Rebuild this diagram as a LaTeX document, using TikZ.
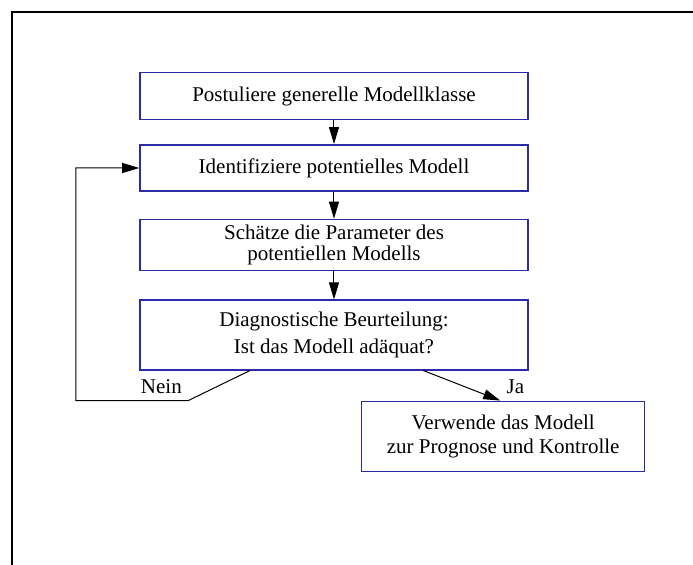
\documentclass[tikz,border=0pt]{standalone}
\usepackage{fontspec}
\setmainfont{Liberation Serif}
\usetikzlibrary{positioning,arrows.meta}
\definecolor{boxblue}{HTML}{2B2BA8}

\begin{document}
\begin{tikzpicture}[
  x=0.5pt, y=-0.5pt,
  font=\fontsize{10.5}{12}\selectfont,
  node distance=13.4pt,
  box/.style={
    draw=boxblue,
    line width=0.75pt,
    align=center,
    minimum width=194pt,
    inner sep=0pt
  },
  arr/.style={
    -{Triangle[length=8.5pt,width=5pt]},
    line width=0.5pt,
    color=black
  },
  lbl/.style={inner sep=3pt}
]
\useasboundingbox (0,0) rectangle (693,565);

% Frame
\draw[line width=1pt, line join=miter] (693,12) -- (12,12) -- (12,565);

% Steps
\node[box, minimum height=23.3pt] (postul) at (334,96)
  {Postuliere generelle Modellklasse};
\node[box, minimum height=23.2pt, below=12pt of postul] (ident)
  {Identifiziere potentielles Modell};
\node[box, minimum height=25.4pt, below=of ident] (schaetz)
  {Schätze die Parameter des\\[-1.2pt]potentiellen Modells};
\node[box, minimum height=34.8pt, below=14.2pt of schaetz] (diag)
  {Diagnostische Beurteilung:\\[1.3pt]Ist das Modell adäquat?};

% Result
\node[box, minimum height=35pt, minimum width=141.5pt,
      below right=15pt and 110.85pt of diag.south west] (verwend)
  {Verwende das Modell\\zur Prognose und Kontrolle};

% Arrows
\draw[arr] (postul)  -- (ident);
\draw[arr] (ident)   -- (schaetz);
\draw[arr] (schaetz) -- (diag);
\draw[arr] ([xshift=-42pt]diag.south) -- ++(-30.85pt,-15pt)
  node[lbl, above left] {Nein}
  -| ([xshift=-31.65pt]ident.west) -- (ident.west);
\draw[arr] ([xshift=44.65pt]diag.south) -- ([xshift=-1.5pt]verwend.north)
  node[lbl, above right] {Ja};

\end{tikzpicture}
\end{document}
